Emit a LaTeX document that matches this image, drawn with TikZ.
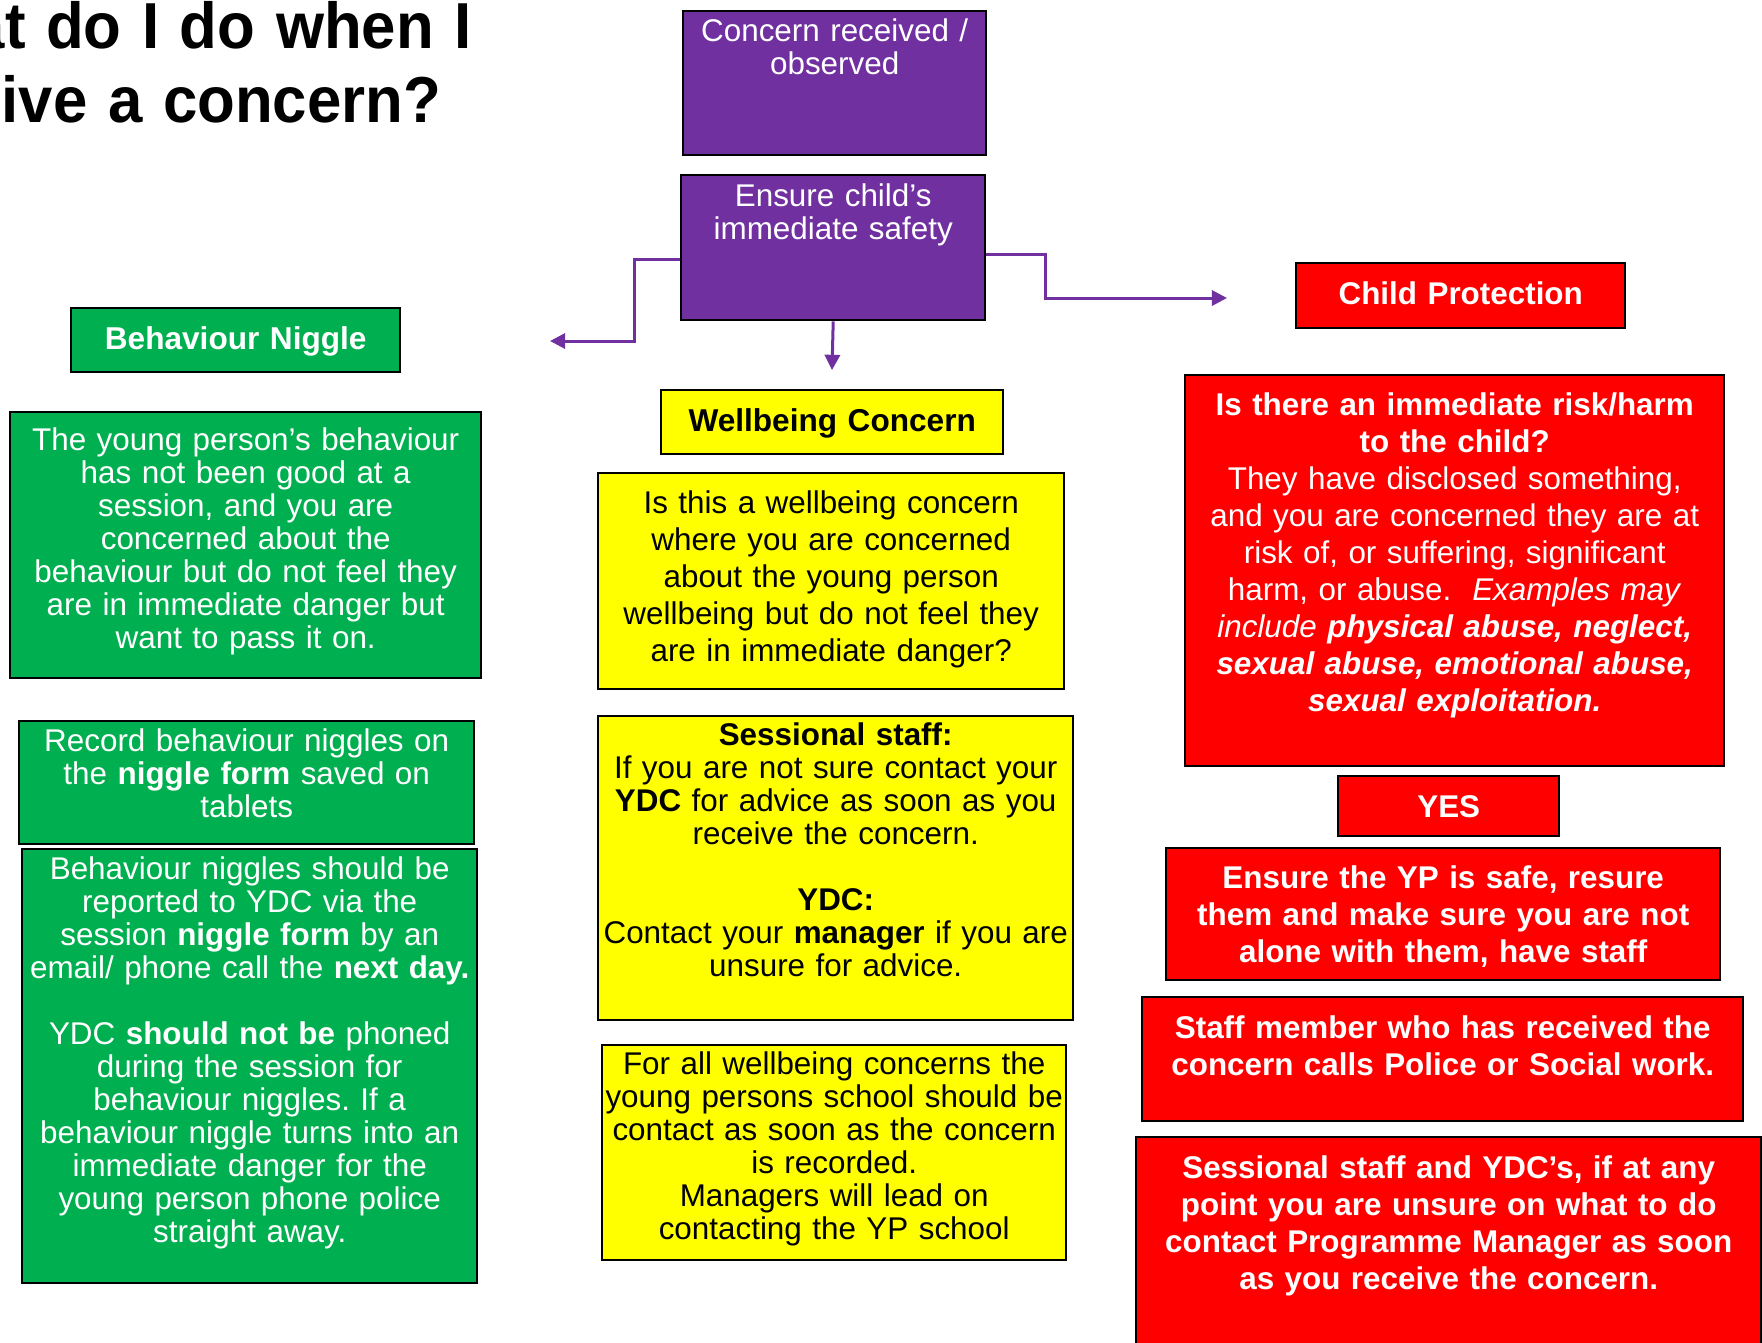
\documentclass[tikz,border=0pt]{standalone}
\usepackage{fontspec}
\setmainfont{Liberation Sans}
\usetikzlibrary{arrows.meta}
\definecolor{cPurple}{HTML}{7030A0}
\definecolor{cGreen}{HTML}{00B050}
\definecolor{cYellow}{HTML}{FFFF00}
\definecolor{cRed}{HTML}{FF0000}
\frenchspacing

\begin{document}
\begin{tikzpicture}[x=0.25pt,y=-0.25pt,
  box/.style={draw=black,line width=0.6pt,inner sep=0pt,anchor=north west,align=center,
    font=\fontsize{7.85pt}{8.25pt}\selectfont},
  dims/.style args={#1/#2/#3}{text width=#1pt,text height=#2pt,text depth=#3pt},
  purplebox/.style={box,fill=cPurple,text=white},
  greenbox/.style={box,fill=cGreen,text=white},
  yellowbox/.style={box,fill=cYellow,text=black},
  redbox/.style={box,fill=cRed,text=white,font=\bfseries\fontsize{7.85pt}{9.25pt}\selectfont},
  hd/.style={font=\bfseries\fontsize{7.9pt}{8.25pt}\selectfont},
  link/.style={cPurple,line width=0.75pt,-{Triangle[length=3.8pt,width=3.8pt]}}]
  \useasboundingbox (0,0) rectangle (1762,1342);
  \clip (0,0) rectangle (1762,1342);
  % heading, runs off the left edge
  \node[anchor=base west,align=left,inner sep=0pt,text width=170pt,xscale=0.95,
    font=\bfseries\fontsize{16.25pt}{18.5pt}\selectfont] (title) at (-126,48)
    {What do I do when I\\receive a concern?};
  % start of the flow
  \node[purplebox,dims=75.75/7.5/28.5] (concern) at (682,10) {Concern received /\\observed};
  \node[purplebox,dims=76/7.75/28.5] (ensure) at (680,174) {Ensure child’s\\immediate safety};
  % behaviour niggle column
  \node[greenbox,hd,dims=82.25/10.25/5.75] (niggle) at (70,307) {Behaviour Niggle};
  \node[greenbox,dims=117.75/9.5/57] (nigDesc) at (9,411) {The young person’s behaviour\\has not been good at a\\session, and you are\\concerned about the\\behaviour but do not feel they\\are in immediate danger but\\want to pass it on.};
  \node[greenbox,dims=113.75/7.5/23.25] (nigRecord) at (18,720) {Record behaviour niggles on\\the \textbf{niggle form} saved on\\tablets};
  \node[greenbox,dims=113.75/7.5/101] (nigReport) at (21,848) {Behaviour niggles should be\\reported to YDC via the\\session \textbf{niggle form} by an\\email/ phone call the \textbf{next day.}\\[8.25pt]YDC \textbf{should not be} phoned\\during the session for\\behaviour niggles. If a\\behaviour niggle turns into an\\immediate danger for the\\young person phone police\\straight away.};
  % wellbeing column
  \node[yellowbox,hd,dims=85.5/10.25/5.75] (wellbeing) at (660,389) {Wellbeing Concern};
  \node[yellowbox,font=\fontsize{7.85pt}{9.25pt}\selectfont,dims=116.5/10/44] (wbDesc) at (597,472) {Is this a wellbeing concern\\where you are concerned\\about the young person\\wellbeing but do not feel they\\are in immediate danger?};
  \node[yellowbox,dims=118.75/7.25/68.75] (wbStaff) at (597,715) {\textbf{Sessional staff:}\\If you are not sure contact your\\\textbf{YDC} for advice as soon as you\\receive the concern.\\[8.25pt]\textbf{YDC:}\\Contact your \textbf{manager} if you are\\unsure for advice.};
  \node[yellowbox,dims=116/7.25/46.5] (wbSchool) at (601,1044) {For all wellbeing concerns the\\young persons school should be\\contact as soon as the concern\\is recorded.\\Managers will lead on\\contacting the YP school};
  % child protection column
  \node[redbox,dims=82.25/10.25/6] (childProt) at (1295,262) {Child Protection};
  \node[redbox,font=\fontsize{7.85pt}{9.25pt}\selectfont,dims=134.75/10/87.75] (cpDesc) at (1184,374) {\textbf{Is there an immediate risk/harm}\\\textbf{to the child?}\\They have disclosed something,\\and you are concerned they are at\\risk of, or suffering, significant\\harm, or abuse.\ \ \textit{Examples may}\\\textit{include \textbf{physical abuse, neglect,}}\\\textbf{\textit{sexual abuse, emotional abuse,}}\\\textbf{\textit{sexual exploitation.}}};
  \node[redbox,dims=55.25/10.25/4.75] (yes) at (1337,775) {YES};
  \node[redbox,dims=138.5/10/23] (cpSafe) at (1165,847) {Ensure the YP is safe, resure\\them and make sure you are not\\alone with them, have staff};
  \node[redbox,dims=150.25/10.25/20.75] (cpCall) at (1141,996) {Staff member who has received the\\concern calls Police or Social work.};
  \node[redbox,dims=156.25/10.25/43.25] (cpManager) at (1135,1136) {Sessional staff and YDC’s, if at any\\point you are unsure on what to do\\contact Programme Manager as soon\\as you receive the concern.};
  % branches out of the safety box
  \coordinate (nigEnd) at (550,341);
  \coordinate (wbEnd) at (832,370);
  \coordinate (cpEnd) at (1227,298);
  \draw[link] ([yshift=-2.9pt]ensure.west) -- ++(-46,0) |- (nigEnd);
  \draw[link] (ensure.south) -- (wbEnd);
  \draw[link] ([yshift=-1.6pt]ensure.east) -- ++(59,0) |- (cpEnd);
\end{tikzpicture}
\end{document}
